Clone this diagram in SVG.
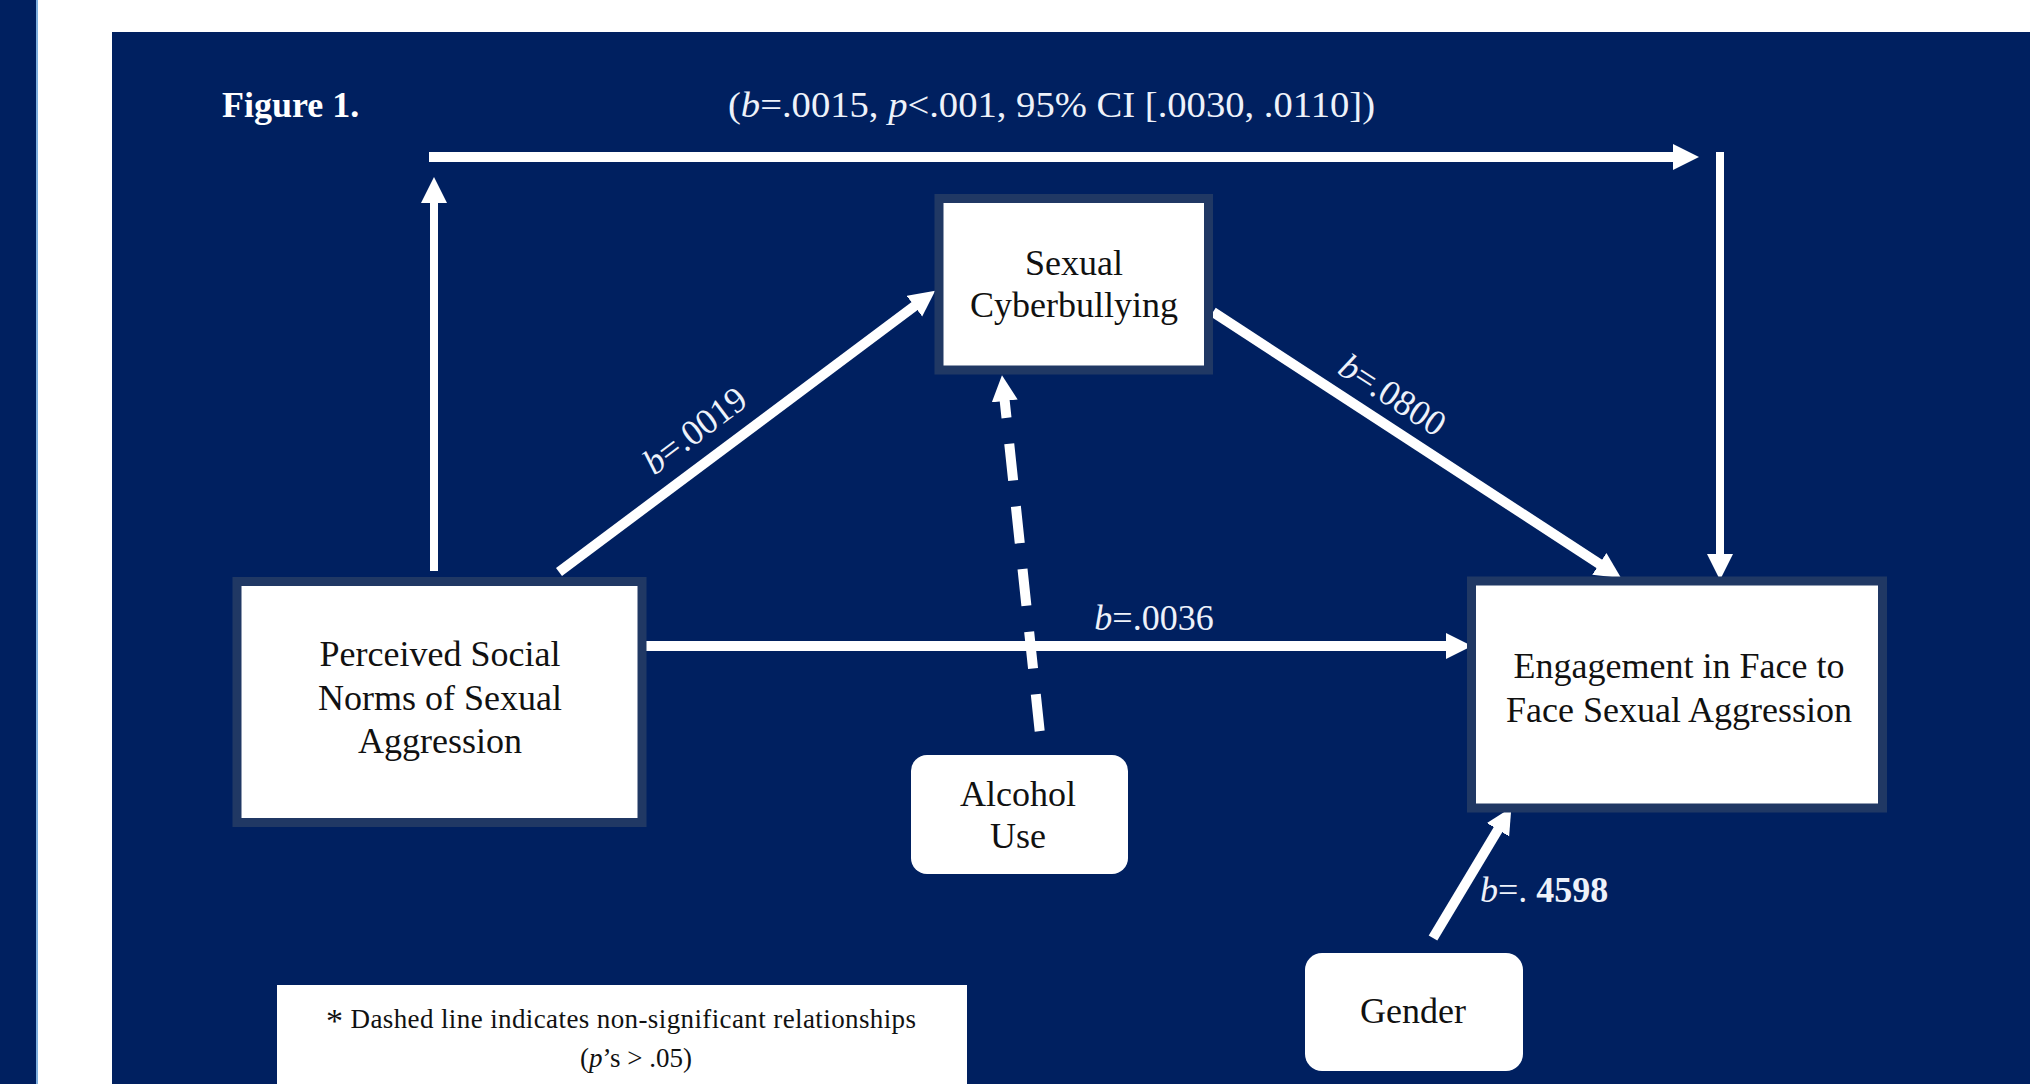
<svg xmlns="http://www.w3.org/2000/svg" width="2030" height="1084" viewBox="0 0 2030 1084">
  <style>
    .node { fill: #ffffff; stroke: #203864; stroke-width: 9; }
    .pill { fill: #ffffff; stroke: none; }
    .ntext { font-family: "Liberation Serif", "Times New Roman", serif; font-size: 36px; fill: #111111; text-anchor: middle; }
    .lbl { font-family: "Liberation Serif", "Times New Roman", serif; font-size: 36px; fill: #eef2fa; }
    .conn { stroke: #ffffff; stroke-width: 10; fill: none; }
    .thin { stroke-width: 8; }
  </style>
  <defs>
    <marker id="arr" markerUnits="userSpaceOnUse" markerWidth="28" markerHeight="28" refX="2" refY="13" orient="auto-start-reverse" viewBox="0 0 28 28">
      <path d="M0,0 L26,13 L0,26 z" fill="#ffffff"/>
    </marker>
  </defs>

  <!-- background -->
  <rect x="0" y="0" width="2030" height="1084" fill="#ffffff"/>
  <rect x="0" y="0" width="37" height="1084" fill="#002060"/>
  <line x1="37" y1="0" x2="37" y2="1084" stroke="#7fb0e0" stroke-width="2"/>
  <rect x="112" y="32" width="1918" height="1052" fill="#002060"/>

  <text x="222" y="117" font-family="Liberation Serif, Times New Roman, serif" font-size="36" font-weight="bold" fill="#ffffff">Figure 1.</text>

  <text class="lbl" x="728" y="117" textLength="647" lengthAdjust="spacingAndGlyphs">(<tspan font-style="italic">b</tspan>=.0015, <tspan font-style="italic">p</tspan>&lt;.001, 95% CI [.0030, .0110])</text>

  <g id="connectors">
    <line class="conn thin" x1="434" y1="571" x2="434" y2="201" marker-end="url(#arr)"/>
    <line class="conn" x1="429" y1="157" x2="1675" y2="157" marker-end="url(#arr)"/>
    <line class="conn thin" x1="1720" y1="152" x2="1720" y2="556" marker-end="url(#arr)"/>
    <line class="conn" x1="559" y1="572" x2="916" y2="305" marker-end="url(#arr)"/>
    <line class="conn" x1="1213" y1="312" x2="1601" y2="565" marker-end="url(#arr)"/>
    <line class="conn" x1="644" y1="646" x2="1448" y2="646" marker-end="url(#arr)"/>
    <path class="conn" d="M1004.5,399 L1042,753" stroke-dasharray="37 26" stroke-dashoffset="18" marker-start="url(#arr)"/>
    <line class="conn" x1="1433" y1="938" x2="1499" y2="828" marker-end="url(#arr)"/>
  </g>

  <g id="labels">
    <text class="lbl" text-anchor="middle" transform="translate(702,440) rotate(-37)"><tspan font-style="italic">b</tspan>=.0019</text>
    <text class="lbl" text-anchor="middle" transform="translate(1386,405) rotate(33)"><tspan font-style="italic">b</tspan>=.0800</text>
    <text class="lbl" text-anchor="middle" x="1154" y="630"><tspan font-style="italic">b</tspan>=.0036</text>
    <text class="lbl" x="1480" y="902" font-size="38"><tspan font-style="italic">b</tspan>=. <tspan font-weight="bold">4598</tspan></text>
  </g>

  <g id="node-psn">
    <rect class="node" x="237" y="581.5" width="405" height="241"/>
    <text class="ntext" x="440" y="666">Perceived Social</text>
    <text class="ntext" x="440" y="710">Norms of Sexual</text>
    <text class="ntext" x="440" y="753">Aggression</text>
  </g>

  <g id="node-cyber">
    <rect class="node" x="939" y="198.5" width="269.5" height="171.5"/>
    <text class="ntext" x="1074" y="275">Sexual</text>
    <text class="ntext" x="1074" y="317">Cyberbullying</text>
  </g>

  <g id="node-engagement">
    <rect class="node" x="1471.5" y="581" width="411" height="227"/>
    <text class="ntext" x="1679" y="678">Engagement in Face to</text>
    <text class="ntext" x="1679" y="722">Face Sexual Aggression</text>
  </g>

  <g id="node-alcohol">
    <rect class="pill" x="911" y="755" width="217" height="119" rx="16"/>
    <text class="ntext" x="1018" y="806">Alcohol</text>
    <text class="ntext" x="1018" y="848">Use</text>
  </g>

  <g id="node-gender">
    <rect class="pill" x="1305" y="953" width="218" height="118" rx="17"/>
    <text class="ntext" x="1413" y="1023">Gender</text>
  </g>

  <g id="legend">
    <rect x="277" y="985" width="690" height="99" fill="#ffffff"/>
    <text font-family="Liberation Serif, Times New Roman, serif" font-size="27" fill="#111111" x="326" y="1028" textLength="590" lengthAdjust="spacing"><tspan font-size="34" dy="4">*</tspan><tspan dy="-4"> Dashed line indicates non-significant relationships</tspan></text>
    <text font-family="Liberation Serif, Times New Roman, serif" font-size="27" fill="#111111" x="636" y="1067" text-anchor="middle">(<tspan font-style="italic">p</tspan>’s &gt; .05)</text>
  </g>
</svg>
